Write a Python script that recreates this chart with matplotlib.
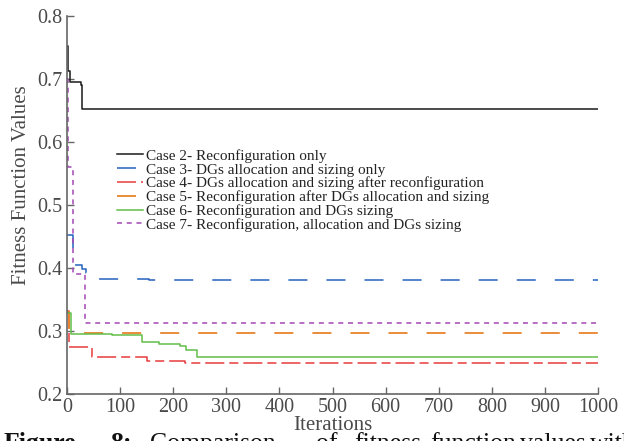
import matplotlib
matplotlib.use("Agg")
import matplotlib.pyplot as plt

plt.rcParams['font.family'] = ['Liberation Serif', 'DejaVu Serif']
plt.rcParams['lines.scale_dashes'] = False

# Step-wise convergence curves (iteration where value starts, value)
case2_it = [0, 1, 5, 27, 29, 1000]
case2_val = [0.752, 0.713, 0.695, 0.690, 0.652, 0.652]

case3_it = [0, 11, 28, 35, 38, 155, 1000]
case3_val = [0.453, 0.405, 0.398, 0.392, 0.382, 0.381, 0.381]

case4_it = [0, 4, 48, 150, 222, 1000]
case4_val = [0.332, 0.274, 0.259, 0.252, 0.249, 0.249]

case5_it = [0, 3, 1000]
case5_val = [0.330, 0.297, 0.297]

case6_it = [0, 7, 84, 142, 173, 213, 224, 244, 1000]
case6_val = [0.329, 0.296, 0.293, 0.283, 0.279, 0.276, 0.270, 0.259, 0.259]

case7_it = [0, 1, 12, 34, 1000]
case7_val = [0.700, 0.560, 0.390, 0.313, 0.313]

labels = [
    "Case 2- Reconfiguration only",
    "Case 3- DGs allocation and sizing only",
    "Case 4- DGs allocation and sizing after reconfiguration",
    "Case 5- Reconfiguration after DGs allocation and sizing",
    "Case 6- Reconfiguration and DGs sizing",
    "Case 7- Reconfiguration, allocation and DGs sizing",
]

xticks = [0, 100, 200, 300, 400, 500, 600, 700, 800, 900, 1000]
yticks = [0.2, 0.3, 0.4, 0.5, 0.6, 0.7, 0.8]

fig = plt.figure(figsize=(6.24, 4.41), dpi=100)
ax = fig.add_axes([67/624, 1-394/441, (598-67)/624, (394-16)/441])

lw = 1.1
ax.plot(case2_it, case2_val, drawstyle='steps-post', color='#1a1a1a', lw=lw, label=labels[0])
ax.plot(case3_it, case3_val, drawstyle='steps-post', color='#2462BE', lw=lw,
        dashes=(13.7, 13.7), label=labels[1])
ax.plot(case4_it, case4_val, drawstyle='steps-post', color='#E83A3C', lw=lw,
        dashes=(13.7, 3.6, 6.5, 3.6), label=labels[2])
ax.plot(case5_it, case5_val, drawstyle='steps-post', color='#E8842C', lw=lw + 0.2,
        dashes=(13.7, 13.7), label=labels[3])
ax.plot(case6_it, case6_val, drawstyle='steps-post', color='#62BD48', lw=lw, label=labels[4])
ax.plot(case7_it, case7_val, drawstyle='steps-post', color='#A447B5', lw=lw,
        dashes=(3.6, 3.4), label=labels[5])

ax.set_xlim(0, 1000)
ax.set_ylim(0.2, 0.8)
ax.set_xticks(xticks)
ax.set_yticks(yticks)
ax.set_yticklabels([f"{v:.1f}" for v in yticks])

for s in ['top', 'right']:
    ax.spines[s].set_visible(False)
for s in ['left', 'bottom']:
    ax.spines[s].set_color('#666666')
    ax.spines[s].set_linewidth(1.2)
ax.tick_params(direction='in', length=5, width=1.0, color='#666666',
               labelcolor='#4a4a4a', labelsize=14.5, pad=3)

ax.set_xlabel("Iterations", fontsize=15, color='#4a4a4a', labelpad=-1)
ax.set_ylabel("Fitness Function Values", fontsize=15, color='#4a4a4a')
ax.yaxis.set_label_coords(-0.068, 0.553)

leg = ax.legend(loc='upper left', bbox_to_anchor=(0.095, 0.648), frameon=False,
                fontsize=11, labelspacing=0.0, handlelength=1.65,
                handletextpad=0.25, borderaxespad=0, borderpad=0)
for t in leg.get_texts():
    t.set_color('#222222')

# partially visible caption at the bottom edge
cap_y = -0.02
fig.text(4/624, cap_y, "Figure", fontsize=18.5, fontweight='bold', va='baseline', color='#111111')
fig.text(110/624, cap_y, "8:", fontsize=18.5, fontweight='bold', va='baseline', color='#111111')
words = ["Comparison", "of", "fitness", "function", "values", "with"]
word_x = [150, 316, 354, 430, 520, 590]
for w, xp in zip(words, word_x):
    fig.text(xp/624, cap_y, w, fontsize=18.5, va='baseline', color='#111111')

fig.savefig("out.png", dpi=100)
